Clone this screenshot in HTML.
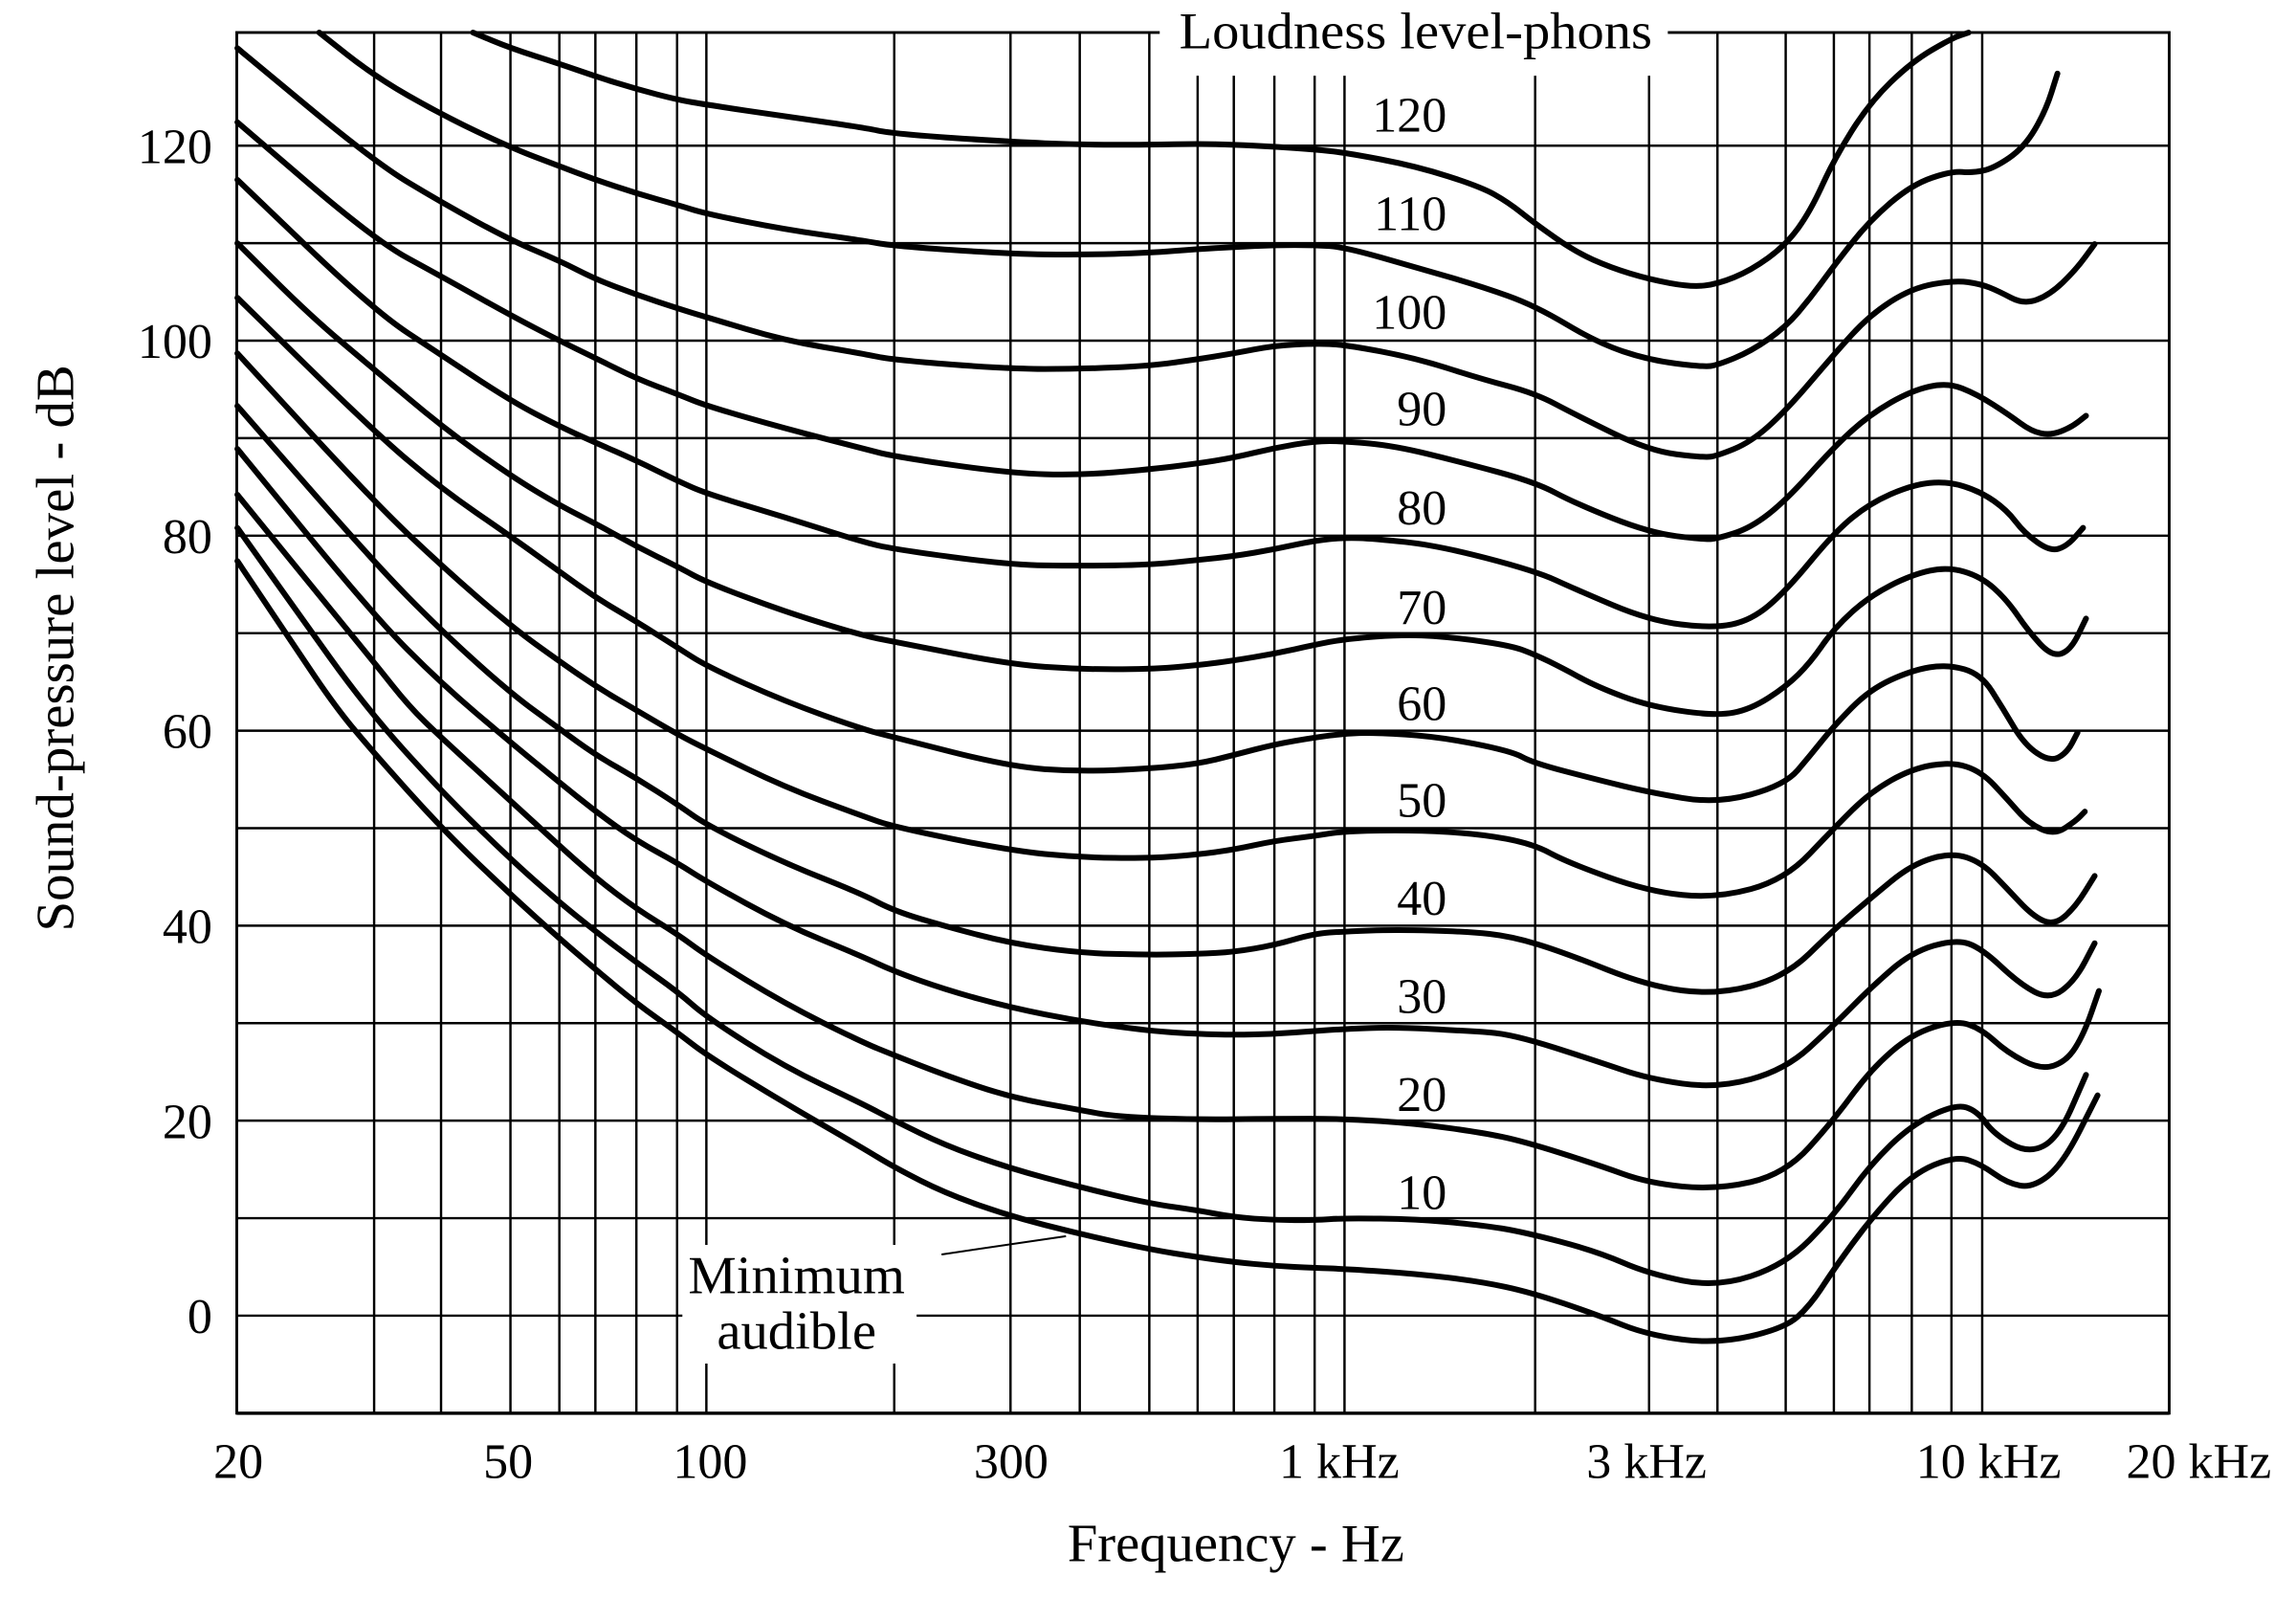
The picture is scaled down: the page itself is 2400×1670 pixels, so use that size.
<!DOCTYPE html>
<html>
<head>
<meta charset="utf-8">
<style>
html,body{margin:0;padding:0;background:#fff;}
svg{display:block;}
text{font-family:"Liberation Serif","DejaVu Serif",serif;fill:#000;}
</style>
</head>
<body>
<svg xmlns="http://www.w3.org/2000/svg" width="2400" height="1670" viewBox="0 0 1568 1091.07">
<rect x="0" y="0" width="1568" height="1091.07" fill="#fff"/>

<!-- grid -->
<g stroke="#000" stroke-width="1.6" fill="none">
<path d="M161.7 99.46H1481.4 M161.7 166.03H1481.4 M161.7 232.6H1481.4 M161.7 299.17H1481.4 M161.7 365.74H1481.4 M161.7 432.31H1481.4 M161.7 498.88H1481.4 M161.7 565.45H1481.4 M161.7 632.02H1481.4 M161.7 698.59H1481.4 M161.7 765.16H1481.4 M161.7 831.73H1481.4 M161.7 898.3H1481.4"/>
<path d="M255.5 22.2V964.9 M301.2 22.2V964.9 M348.6 22.2V964.9 M382 22.2V964.9 M406.6 22.2V964.9 M434.6 22.2V964.9 M462.4 22.2V964.9 M482.4 22.2V964.9 M610.7 22.2V964.9 M690.1 22.2V964.9 M737.4 22.2V964.9 M784.9 22.2V964.9 M817.9 22.2V964.9 M842.6 22.2V964.9 M870.3 22.2V964.9 M897.8 22.2V964.9 M918.2 22.2V964.9 M1048.4 22.2V964.9 M1126.2 22.2V964.9 M1172.9 22.2V964.9 M1219.5 22.2V964.9 M1252.4 22.2V964.9 M1276.7 22.2V964.9 M1305.6 22.2V964.9 M1332.7 22.2V964.9 M1353.7 22.2V964.9"/>
</g>
<rect x="161.7" y="22.2" width="1319.7" height="942.7" fill="none" stroke="#000" stroke-width="1.9"/>
<line x1="161.7" y1="964.9" x2="1481.4" y2="964.9" stroke="#000" stroke-width="2.2"/>

<!-- white label boxes interrupting grid -->
<rect x="792" y="8" width="347" height="43.7" fill="#fff"/>
<rect x="466" y="850" width="160" height="81" fill="#fff"/>

<!-- leader line -->
<line x1="643" y1="856.5" x2="728" y2="844" stroke="#000" stroke-width="1.3"/>

<!-- curves (x in px, y in dB) -->
<g transform="matrix(1 0 0 -6.657 0 898.3)" fill="none" stroke="#000" stroke-width="6" stroke-linejoin="round" stroke-linecap="round">
<path vector-effect="non-scaling-stroke" d="M323 131.6 L335.85 130.8 Q348.7 130 365.35 129.2 Q382 128.4 394.4 127.75 Q406.8 127.1 420.8 126.45 Q434.8 125.8 448.9 125.25 Q463 124.7 472.8 124.45 Q482.6 124.2 509.3 123.6 Q536 123 562 122.45 Q588 121.9 599.4 121.55 Q610.8 121.2 650.4 120.8 Q690 120.4 713.5 120.25 Q737 120.1 761 120.1 Q785 120.1 801.5 120.15 Q818 120.2 830.35 120.15 Q842.7 120.1 856.55 120 Q870.4 119.9 884.1 119.75 Q897.8 119.6 908 119.45 Q918.2 119.3 942.7 118.6 Q967.2 117.9 989.1 116.85 Q1011 115.8 1020.5 115 Q1030 114.2 1039.2 113.1 Q1048.4 112 1062.2 110.55 Q1076 109.1 1088 108.3 Q1100 107.5 1113.1 106.9 Q1126.2 106.3 1140.5 105.9 Q1154.8 105.5 1163.85 105.65 Q1172.9 105.8 1184.3 106.5 Q1195.7 107.2 1207.65 108.5 Q1219.6 109.8 1228.05 111.55 Q1236.5 113.3 1244.5 115.95 Q1252.5 118.6 1264.6 121.5 Q1276.7 124.4 1291.15 126.5 Q1305.6 128.6 1319.2 129.8 Q1332.8 131 1338.6 131.3 L1344.4 131.6"/>
<path vector-effect="non-scaling-stroke" d="M218 131.6 L237 129.35 Q256 127.1 278.6 125.15 Q301.2 123.2 324.95 121.5 Q348.7 119.8 365.35 118.85 Q382 117.9 394.4 117.2 Q406.8 116.5 420.8 115.8 Q434.8 115.1 448.9 114.5 Q463 113.9 472.8 113.45 Q482.6 113 509.3 112.2 Q536 111.4 562 110.85 Q588 110.3 599.4 110 Q610.8 109.7 650.4 109.3 Q690 108.9 713.5 108.85 Q737 108.8 761 108.9 Q785 109 801.5 109.2 Q818 109.4 830.35 109.5 Q842.7 109.6 856.55 109.7 Q870.4 109.8 884.1 109.8 Q897.8 109.8 908 109.7 Q918.2 109.6 942.7 108.55 Q967.2 107.5 989.1 106.55 Q1011 105.6 1029.7 104.6 Q1048.4 103.6 1069.5 101.7 Q1090.6 99.8 1108.4 98.9 Q1126.2 98 1144.9 97.65 Q1163.6 97.3 1168.25 97.4 Q1172.9 97.5 1184.3 98.2 Q1195.7 98.9 1207.65 100.15 Q1219.6 101.4 1228.05 102.9 Q1236.5 104.4 1244.5 106.05 Q1252.5 107.7 1264.6 110 Q1276.7 112.3 1291.15 114.15 Q1305.6 116 1319.2 116.7 Q1332.8 117.4 1340.05 117.3 Q1347.3 117.2 1354.6 117.45 Q1361.9 117.7 1372.1 118.75 Q1382.3 119.8 1389.6 121.65 Q1396.9 123.5 1401 125.45 L1405.1 127.4"/>
<path vector-effect="non-scaling-stroke" d="M162.1 130 L209.05 124.15 Q256 118.3 278.6 116.25 Q301.2 114.2 324.95 112.25 Q348.7 110.3 365.35 109.25 Q382 108.2 394.4 107.25 Q406.8 106.3 420.8 105.5 Q434.8 104.7 448.9 104 Q463 103.3 472.8 102.85 Q482.6 102.4 509.3 101.2 Q536 100 562 99.35 Q588 98.7 599.4 98.35 Q610.8 98 650.4 97.55 Q690 97.1 713.5 97.1 Q737 97.1 761 97.25 Q785 97.4 801.5 97.75 Q818 98.1 830.35 98.4 Q842.7 98.7 856.55 99.1 Q870.4 99.5 884.1 99.6 Q897.8 99.7 908 99.65 Q918.2 99.6 942.7 98.9 Q967.2 98.2 989.1 97.15 Q1011 96.1 1029.7 95.35 Q1048.4 94.6 1062.2 93.5 Q1076 92.4 1101.1 90.55 Q1126.2 88.7 1144.9 88.35 Q1163.6 88 1168.25 88.1 Q1172.9 88.2 1184.3 88.9 Q1195.7 89.6 1207.65 91.2 Q1219.6 92.8 1236.05 95.7 Q1252.5 98.6 1264.6 100.6 Q1276.7 102.6 1291.15 104 Q1305.6 105.4 1320.3 105.8 Q1335 106.2 1343.95 106 Q1352.9 105.8 1358.75 105.45 Q1364.6 105.1 1373.45 104.4 Q1382.3 103.7 1391.05 104.2 Q1399.8 104.7 1408.55 105.95 Q1417.3 107.2 1423.9 108.55 L1430.5 109.9"/>
<path vector-effect="non-scaling-stroke" d="M162.1 122.4 L209.05 116.35 Q256 110.3 278.6 108.45 Q301.2 106.6 324.95 104.6 Q348.7 102.6 365.35 101.3 Q382 100 394.4 99.1 Q406.8 98.2 420.8 97.15 Q434.8 96.1 448.9 95.3 Q463 94.5 472.8 93.9 Q482.6 93.3 509.3 92.15 Q536 91 562 90 Q588 89 599.4 88.55 Q610.8 88.1 650.4 87.25 Q690 86.4 713.5 86.3 Q737 86.2 761 86.5 Q785 86.8 801.5 87.1 Q818 87.4 830.35 87.7 Q842.7 88 856.55 88.5 Q870.4 89 884.1 89.35 Q897.8 89.7 908 89.7 Q918.2 89.7 935.4 89.45 Q952.6 89.2 974.5 88.4 Q996.4 87.6 1022.4 86.55 Q1048.4 85.5 1062.2 84.4 Q1076 83.3 1101.1 81.8 Q1126.2 80.3 1144.9 79.95 Q1163.6 79.6 1168.25 79.65 Q1172.9 79.7 1184.3 80.25 Q1195.7 80.8 1207.65 82.2 Q1219.6 83.6 1236.05 86.35 Q1252.5 89.1 1264.6 90.75 Q1276.7 92.4 1291.15 93.65 Q1305.6 94.9 1317.8 95.3 Q1330 95.7 1340.1 95.1 Q1350.2 94.5 1361.1 93.45 Q1372 92.4 1379.65 91.55 Q1387.3 90.7 1393.85 90.5 Q1400.4 90.3 1407.4 90.7 Q1414.4 91.1 1419.5 91.7 L1424.6 92.3"/>
<path vector-effect="non-scaling-stroke" d="M162.1 116.5 L208.65 109.8 Q255.2 103.1 278.4 100.8 Q301.6 98.5 325.3 96.15 Q349 93.8 365.6 92.5 Q382.2 91.2 394.75 90.35 Q407.3 89.5 420.9 88.6 Q434.5 87.7 448.75 86.65 Q463 85.6 472.8 84.95 Q482.6 84.3 509.3 83.1 Q536 81.9 562 80.65 Q588 79.4 599.4 79 Q610.8 78.6 650.4 77.8 Q690 77 713.5 76.95 Q737 76.9 761 76.95 Q785 77 801.5 77.25 Q818 77.5 830.35 77.7 Q842.7 77.9 856.55 78.25 Q870.4 78.6 884.1 79.05 Q897.8 79.5 908 79.65 Q918.2 79.8 928.1 79.75 Q938 79.7 959.85 79.35 Q981.7 79 1015.05 77.7 Q1048.4 76.4 1062.2 75.45 Q1076 74.5 1101.1 72.9 Q1126.2 71.3 1147.8 70.9 Q1169.4 70.5 1182.55 70.9 Q1195.7 71.3 1207.65 72.8 Q1219.6 74.3 1236.05 77.3 Q1252.5 80.3 1264.6 81.8 Q1276.7 83.3 1291.15 84.25 Q1305.6 85.2 1317.7 85.4 Q1329.8 85.6 1341.35 85.05 Q1352.9 84.5 1361.8 83.55 Q1370.7 82.6 1376.5 81.45 Q1382.3 80.3 1391.05 79.35 Q1399.8 78.4 1405.65 78.65 Q1411.5 78.9 1417.05 79.85 L1422.6 80.8"/>
<path vector-effect="non-scaling-stroke" d="M162.1 110 L187.2 106.25 Q212.3 102.5 233.75 99.8 Q255.2 97.1 278.4 94.15 Q301.6 91.2 325.3 88.65 Q349 86.1 365.6 84.6 Q382.2 83.1 394.75 82.15 Q407.3 81.2 420.9 80.05 Q434.5 78.9 448.75 77.85 Q463 76.8 472.8 76 Q482.6 75.2 509.3 73.7 Q536 72.2 562 71 Q588 69.8 599.4 69.45 Q610.8 69.1 650.4 67.95 Q690 66.8 713.5 66.55 Q737 66.3 761 66.3 Q785 66.3 801.5 66.5 Q818 66.7 830.35 66.95 Q842.7 67.2 856.55 67.55 Q870.4 67.9 884.1 68.35 Q897.8 68.8 908 69.1 Q918.2 69.4 939.8 69.65 Q961.4 69.9 978.9 69.7 Q996.4 69.5 1014.35 69.1 Q1032.3 68.7 1040.35 68.25 Q1048.4 67.8 1057.85 67.1 Q1067.3 66.4 1078.95 65.45 Q1090.6 64.5 1108.4 63.5 Q1126.2 62.5 1149.25 62 Q1172.3 61.5 1184 61.85 Q1195.7 62.2 1207.65 63.35 Q1219.6 64.5 1228.05 65.75 Q1236.5 67 1244.5 68.75 Q1252.5 70.5 1264.6 72.15 Q1276.7 73.8 1291.15 74.9 Q1305.6 76 1317.8 76.4 Q1330 76.8 1341.45 76.3 Q1352.9 75.8 1361.8 74.6 Q1370.7 73.4 1377.95 71.8 Q1385.2 70.2 1393.25 68.9 Q1401.3 67.6 1407.65 67.9 Q1414 68.2 1419.3 69.85 L1424.6 71.5"/>
<path vector-effect="non-scaling-stroke" d="M162.1 104.4 L208.65 97.55 Q255.2 90.7 278.4 87.75 Q301.6 84.8 325.3 82.35 Q349 79.9 365.6 78.1 Q382.2 76.3 394.75 74.95 Q407.3 73.6 420.9 72.4 Q434.5 71.2 448.75 69.85 Q463 68.5 472.8 67.55 Q482.6 66.6 509.3 64.8 Q536 63 562 61.6 Q588 60.2 599.4 59.75 Q610.8 59.3 650.4 57.8 Q690 56.3 713.5 56.05 Q737 55.8 761 55.95 Q785 56.1 801.5 56.35 Q818 56.6 830.35 57.05 Q842.7 57.5 856.55 58.05 Q870.4 58.6 884.1 58.95 Q897.8 59.3 908 59.5 Q918.2 59.7 928.1 59.75 Q938 59.8 959.85 59.6 Q981.7 59.4 1007 58.65 Q1032.3 57.9 1039.6 57.3 Q1046.9 56.7 1068.45 55.85 Q1090 55 1107.8 54.35 Q1125.6 53.7 1148.95 53.1 Q1172.3 52.5 1195.65 53.45 Q1219 54.4 1227.75 55.95 Q1236.5 57.5 1244.5 59 Q1252.5 60.5 1264.6 62.35 Q1276.7 64.2 1291.15 65.2 Q1305.6 66.2 1317.8 66.5 Q1330 66.8 1341.45 66.3 Q1352.9 65.8 1360.35 64.05 Q1367.8 62.3 1375.05 60.45 Q1382.3 58.6 1391.05 57.7 Q1399.8 56.8 1405.65 57.25 Q1411.5 57.7 1415.15 58.75 L1418.8 59.8"/>
<path vector-effect="non-scaling-stroke" d="M162.1 98.7 L208.65 91.1 Q255.2 83.5 278.4 80.2 Q301.6 76.9 325.3 73.8 Q349 70.7 365.6 68.9 Q382.2 67.1 394.75 65.8 Q407.3 64.5 420.9 63.3 Q434.5 62.1 448.75 60.85 Q463 59.6 472.8 58.85 Q482.6 58.1 509.3 56.15 Q536 54.2 562 52.75 Q588 51.3 599.4 50.7 Q610.8 50.1 650.4 48.9 Q690 47.7 713.5 47.35 Q737 47 761 46.95 Q785 46.9 801.5 47.1 Q818 47.3 830.35 47.55 Q842.7 47.8 856.55 48.25 Q870.4 48.7 884.1 48.95 Q897.8 49.2 908 49.45 Q918.2 49.7 942.7 49.75 Q967.2 49.8 989.1 49.6 Q1011 49.4 1028.95 48.9 Q1046.9 48.4 1058.55 47.45 Q1070.2 46.5 1097.9 45 Q1125.6 43.5 1148.95 43.15 Q1172.3 42.8 1195.65 43.75 Q1219 44.7 1235.75 47.35 Q1252.5 50 1264.9 51.85 Q1277.3 53.7 1291.45 54.9 Q1305.6 56.1 1319.2 56.45 Q1332.8 56.8 1343 56.3 Q1353.2 55.8 1361.95 54.4 Q1370.7 53 1378 51.75 Q1385.3 50.5 1394.05 49.9 Q1402.8 49.3 1410.05 50 Q1417.3 50.7 1420.55 51.2 L1423.8 51.7"/>
<path vector-effect="non-scaling-stroke" d="M162.1 93.3 L208.65 85.3 Q255.2 77.3 278.4 73.75 Q301.6 70.2 325.3 67 Q349 63.8 365.5 62 Q382 60.2 394.4 58.85 Q406.8 57.5 420.8 56.3 Q434.8 55.1 448.9 53.75 Q463 52.4 472.8 51.35 Q482.6 50.3 509.3 48.35 Q536 46.4 562 44.85 Q588 43.3 599.4 42.4 Q610.8 41.5 628.6 40.7 Q646.4 39.9 668.2 39.05 Q690 38.2 713.5 37.7 Q737 37.2 761 37.1 Q785 37 801.5 37.05 Q818 37.1 830.35 37.2 Q842.7 37.3 856.55 37.65 Q870.4 38 884.1 38.6 Q897.8 39.2 908 39.3 Q918.2 39.4 935.4 39.5 Q952.6 39.6 977.4 39.5 Q1002.2 39.4 1017.25 39.15 Q1032.3 38.9 1049.8 38.1 Q1067.3 37.3 1096.45 35.55 Q1125.6 33.8 1148.95 33.35 Q1172.3 32.9 1195.65 33.8 Q1219 34.7 1235.75 37.15 Q1252.5 39.6 1264.9 41.2 Q1277.3 42.8 1291.45 44.55 Q1305.6 46.3 1319.2 46.9 Q1332.8 47.5 1343 47 Q1353.2 46.5 1361.95 45.15 Q1370.7 43.8 1379.45 42.4 Q1388.2 41 1395.5 40.5 Q1402.8 40 1410.05 40.95 Q1417.3 41.9 1423.9 43.5 L1430.5 45.1"/>
<path vector-effect="non-scaling-stroke" d="M162.1 88.9 L208.65 80.35 Q255.2 71.8 278.4 68.3 Q301.6 64.8 325.15 61.8 Q348.7 58.8 365.35 56.75 Q382 54.7 394.4 53.2 Q406.8 51.7 420.8 50.2 Q434.8 48.7 448.9 47.55 Q463 46.4 472.8 45.45 Q482.6 44.5 509.3 42.3 Q536 40.1 562 38.5 Q588 36.9 599.4 36.1 Q610.8 35.3 628.6 34.35 Q646.4 33.4 668.2 32.5 Q690 31.6 713.5 30.9 Q737 30.2 761 29.7 Q785 29.2 801.5 29.05 Q818 28.9 830.35 28.85 Q842.7 28.8 856.55 28.85 Q870.4 28.9 884.1 29.05 Q897.8 29.2 908 29.3 Q918.2 29.4 935.4 29.5 Q952.6 29.6 977.4 29.4 Q1002.2 29.2 1017.25 29.05 Q1032.3 28.9 1061.45 27.5 Q1090.6 26.1 1108.1 25.2 Q1125.6 24.3 1148.95 23.8 Q1172.3 23.3 1195.65 24.25 Q1219 25.2 1235.75 27.5 Q1252.5 29.8 1264.9 31.7 Q1277.3 33.6 1291.45 35.45 Q1305.6 37.3 1320.65 37.95 Q1335.7 38.6 1344.45 38.15 Q1353.2 37.7 1366.3 35.85 Q1379.4 34 1389.6 33.2 Q1399.8 32.4 1408.55 33.4 Q1417.3 34.4 1423.9 36.3 L1430.5 38.2"/>
<path vector-effect="non-scaling-stroke" d="M162.1 84.2 L191.05 78.85 Q220 73.5 238 70.2 Q256 66.9 267.65 64.7 Q279.3 62.5 290.25 60.9 Q301.2 59.3 324.95 56.05 Q348.7 52.8 365.35 50.5 Q382 48.2 394.4 46.55 Q406.8 44.9 420.8 43.3 Q434.8 41.7 448.9 40.4 Q463 39.1 472.8 38 Q482.6 36.9 509.3 34.45 Q536 32 562 30.05 Q588 28.1 599.4 27.4 Q610.8 26.7 628.6 25.65 Q646.4 24.6 668.2 23.5 Q690 22.4 713.5 21.75 Q737 21.1 750 20.75 Q763 20.4 790.5 20.25 Q818 20.1 844.2 20.15 Q870.4 20.2 894.3 20.2 Q918.2 20.2 942.7 19.95 Q967.2 19.7 989.1 19.25 Q1011 18.8 1025.5 18.35 Q1040 17.9 1065.3 16.7 Q1090.6 15.5 1108.1 14.55 Q1125.6 13.6 1148.95 13.25 Q1172.3 12.9 1195.65 13.7 Q1219 14.5 1235.75 17.3 Q1252.5 20.1 1264.9 22.65 Q1277.3 25.2 1291.45 27.05 Q1305.6 28.9 1320.65 29.6 Q1335.7 30.3 1344.45 29.85 Q1353.2 29.4 1361.95 28.2 Q1370.7 27 1382.35 26.1 Q1394 25.2 1402.75 25.65 Q1411.5 26.1 1417.35 27.5 Q1423.2 28.9 1428.3 31.1 L1433.4 33.3"/>
<path vector-effect="non-scaling-stroke" d="M162.1 80.8 L181.05 76.8 Q200 72.8 225.05 67.55 Q250.1 62.3 275.65 58.05 Q301.2 53.8 324.95 50.3 Q348.7 46.8 365.35 44.6 Q382 42.4 394.4 40.9 Q406.8 39.4 420.8 37.8 Q434.8 36.2 448.9 34.7 Q463 33.2 472.8 31.9 Q482.6 30.6 509.3 28.05 Q536 25.5 562 23.65 Q588 21.8 599.4 20.9 Q610.8 20 628.6 18.7 Q646.4 17.4 668.2 16.25 Q690 15.1 713.5 14.15 Q737 13.2 761 12.35 Q785 11.5 801.5 11.15 Q818 10.8 830.35 10.45 Q842.7 10.1 856.55 9.95 Q870.4 9.8 884.1 9.8 Q897.8 9.8 908 9.9 Q918.2 10 942.7 9.95 Q967.2 9.9 989.1 9.6 Q1011 9.3 1025.5 8.95 Q1040 8.6 1065.3 7.6 Q1090.6 6.6 1108.1 5.45 Q1125.6 4.3 1148.95 3.6 Q1172.3 2.9 1195.65 4.05 Q1219 5.2 1235.75 7.75 Q1252.5 10.3 1264.9 12.9 Q1277.3 15.5 1291.45 17.55 Q1305.6 19.6 1320.65 20.65 Q1335.7 21.7 1342.95 21.35 Q1350.2 21 1356.05 19.8 Q1361.9 18.6 1373.6 17.6 Q1385.3 16.6 1395.5 17.4 Q1405.7 18.2 1415.15 21.45 L1424.6 24.7"/>
<path vector-effect="non-scaling-stroke" d="M162.1 77.4 L181.05 73.15 Q200 68.9 214.85 65.6 Q229.7 62.3 242.85 59.95 Q256 57.6 279.3 53.7 Q302.6 49.8 325.95 46.45 Q349.3 43.1 365.65 40.9 Q382 38.7 394.4 37.1 Q406.8 35.5 420.8 33.75 Q434.8 32 448.9 30.5 Q463 29 472.8 27.85 Q482.6 26.7 509.3 24.25 Q536 21.8 562 19.55 Q588 17.3 599.4 16.25 Q610.8 15.2 628.6 13.85 Q646.4 12.5 668.2 11.35 Q690 10.2 713.5 9.3 Q737 8.4 761 7.6 Q785 6.8 801.5 6.4 Q818 6 830.35 5.75 Q842.7 5.5 856.55 5.3 Q870.4 5.1 884.1 5 Q897.8 4.9 908 4.85 Q918.2 4.8 942.7 4.55 Q967.2 4.3 989.1 3.9 Q1011 3.5 1028.2 2.95 Q1045.4 2.4 1068 1.25 Q1090.6 0.1 1108.1 -0.95 Q1125.6 -2 1148.95 -2.45 Q1172.3 -2.9 1195.65 -2.1 Q1219 -1.3 1227.75 -0.1 Q1236.5 1.1 1244.5 2.95 Q1252.5 4.8 1264.9 7.35 Q1277.3 9.9 1291.45 12.2 Q1305.6 14.5 1320.65 15.45 Q1335.7 16.4 1344.45 15.95 Q1353.2 15.5 1361.95 14.55 Q1370.7 13.6 1379.45 13.35 Q1388.2 13.1 1398.4 14.3 Q1408.6 15.5 1420.55 19.05 L1432.5 22.6"/>
</g>

<!-- titles / labels -->
<text x="805.3" y="33" font-size="35" textLength="323" lengthAdjust="spacingAndGlyphs">Loudness level-phons</text>

<g font-size="34" text-anchor="end">
<text x="988" y="89.8">120</text>
<text x="988" y="157">110</text>
<text x="988" y="224.4">100</text>
<text x="988" y="290.5">90</text>
<text x="988" y="358">80</text>
<text x="988" y="426">70</text>
<text x="988" y="491.5">60</text>
<text x="988" y="557.5">50</text>
<text x="988" y="624.7">40</text>
<text x="988" y="691.5">30</text>
<text x="988" y="758.4">20</text>
<text x="988" y="825.6">10</text>
</g>

<g font-size="34" text-anchor="end">
<text x="145" y="111.3">120</text>
<text x="145" y="244.4">100</text>
<text x="145" y="377.5">80</text>
<text x="145" y="510.7">60</text>
<text x="145" y="643.8">40</text>
<text x="145" y="777">20</text>
<text x="145" y="910.1">0</text>
</g>

<g font-size="34" text-anchor="middle">
<text x="162.8" y="1009">20</text>
<text x="347" y="1009">50</text>
<text x="485" y="1009">100</text>
<text x="690.5" y="1009">300</text>
<text x="914.6" y="1009">1 kHz</text>
<text x="1124.5" y="1009">3 kHz</text>
<text x="1358" y="1009">10 kHz</text>
<text x="1501.6" y="1009">20 kHz</text>
</g>

<text x="844" y="1066" font-size="37" text-anchor="middle" textLength="230" lengthAdjust="spacingAndGlyphs">Frequency - Hz</text>
<text transform="translate(50,442.5) rotate(-90)" font-size="37" text-anchor="middle" textLength="387" lengthAdjust="spacingAndGlyphs">Sound-pressure level - dB</text>

<text x="544" y="883" font-size="37" text-anchor="middle">Minimum</text>
<text x="544" y="921" font-size="37" text-anchor="middle">audible</text>
</svg>
</body>
</html>
